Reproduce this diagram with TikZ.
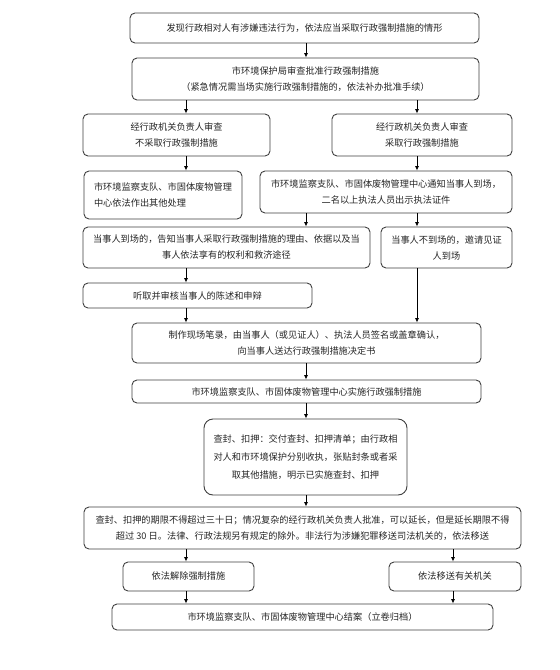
\documentclass[tikz,border=0pt]{standalone}
\usepackage{fontspec}
\setmainfont{Noto Sans CJK SC}
\usetikzlibrary{arrows.meta}
\begin{document}
\begin{tikzpicture}[x=1pt,y=-1pt,
  box/.style={draw=black!75,line width=0.9pt,rounded corners=5pt,inner sep=0pt,
    align=center,font=\fontsize{9.2}{16}\selectfont,text=black!85},
  arr/.style={draw=black,line width=0.8pt,-{Latex[length=4.5pt,width=4pt]}}]
\fill[white] (0,0) rectangle (560,670);
\useasboundingbox (0,0) rectangle (560,670);
\node[box,minimum width=349pt,minimum height=30pt] (b1) at (304.5,28) {发现行政相对人有涉嫌违法行为，依法应当采取行政强制措施的情形};
\node[box,minimum width=347pt,minimum height=42pt] (b2) at (305.5,79) {市环境保护局审查批准行政强制措施\\（紧急情况需当场实施行政强制措施的，依法补办批准手续）};
\node[box,minimum width=187pt,minimum height=42pt] (b3L) at (176.5,135) {经行政机关负责人审查\\不采取行政强制措施};
\node[box,minimum width=180pt,minimum height=42pt] (b3R) at (422,135) {经行政机关负责人审查\\采取行政强制措施};
\node[box,align=left,minimum width=158pt,minimum height=48pt] (b4L) at (163,195) {市环境监察支队、市固体废物管理\\中心依法作出其他处理};
\node[box,minimum width=252pt,minimum height=42pt] (b4R) at (386,192) {市环境监察支队、市固体废物管理中心通知当事人到场，\\二名以上执法人员出示执法证件};
\node[box,minimum width=287pt,minimum height=41pt] (b5L) at (226.5,247.5) {当事人到场的，告知当事人采取行政强制措施的理由、依据以及当\\事人依法享有的权利和救济途径};
\node[box,minimum width=131pt,minimum height=41pt] (b5R) at (446.5,247.5) {当事人不到场的，邀请见证\\人到场};
\node[box,minimum width=229pt,minimum height=25pt] (b6) at (197.5,295.5) {听取并审核当事人的陈述和申辩};
\node[box,minimum width=349pt,minimum height=40pt] (b7) at (306.5,343) {制作现场笔录，由当事人（或见证人）、执法人员签名或盖章确认，\\向当事人送达行政强制措施决定书};
\node[box,minimum width=349pt,minimum height=23pt] (b8) at (306.5,391.5) {市环境监察支队、市固体废物管理中心实施行政强制措施};
\node[box,rounded corners=9pt,font=\fontsize{9.2}{18}\selectfont,minimum width=203pt,minimum height=76pt] (b9) at (305.5,457) {查封、扣押：交付查封、扣押清单；由行政相\\对人和市环境保护分别收执，张贴封条或者采\\取其他措施，明示已实施查封、扣押};
\node[box,minimum width=437pt,minimum height=42pt] (b10) at (302.5,528) {查封、扣押的期限不得超过三十日；情况复杂的经行政机关负责人批准，可以延长，但是延长期限不得\\超过 30 日。法律、行政法规另有规定的除外。非法行为涉嫌犯罪移送司法机关的，依法移送};
\node[box,minimum width=131pt,minimum height=29pt] (b11L) at (188.5,576.5) {依法解除强制措施};
\node[box,minimum width=132pt,minimum height=29pt] (b11R) at (455,576.5) {依法移送有关机关};
\node[box,minimum width=381pt,minimum height=26pt] (b12) at (302.5,617) {市环境监察支队、市固体废物管理中心结案（立卷归档）};
\coordinate (xm) at (306,0);
\coordinate (xl) at (186,0);
\coordinate (xr) at (417,0);
\coordinate (xbl) at (186,0);
\coordinate (xbr) at (453,0);
\draw[arr] (b1.south -| xm) -- (b2.north -| xm);
\draw[arr] (b2.south -| xl) -- (b3L.north -| xl);
\draw[arr] (b2.south -| xr) -- (b3R.north -| xr);
\draw[arr] (b3L.south -| xl) -- (b4L.north -| xl);
\draw[arr] (b3R.south -| xr) -- (b4R.north -| xr);
\draw[arr] (b4R.south -| xm) -- (b5L.north -| xm);
\draw[arr] (b4R.south -| xr) -- (b5R.north -| xr);
\draw[arr] (b5L.south -| xl) -- (b6.north -| xl);
\draw[arr] (b6.south -| xl) -- (b7.north -| xl);
\draw[arr] (b5R.south -| xr) -- (b7.north -| xr);
\draw[arr] (b7.south -| xm) -- (b8.north -| xm);
\draw[arr] (b8.south -| xm) -- (b9.north -| xm);
\draw[arr] (b9.south -| xm) -- (b10.north -| xm);
\draw[arr] (b10.south -| xbl) -- (b11L.north -| xbl);
\draw[arr] (b10.south -| xbr) -- (b11R.north -| xbr);
\draw[arr] (b11L.south -| xbl) -- (b12.north -| xbl);
\draw[arr] (b11R.south -| xbr) -- (b12.north -| xbr);
\end{tikzpicture}
\end{document}
